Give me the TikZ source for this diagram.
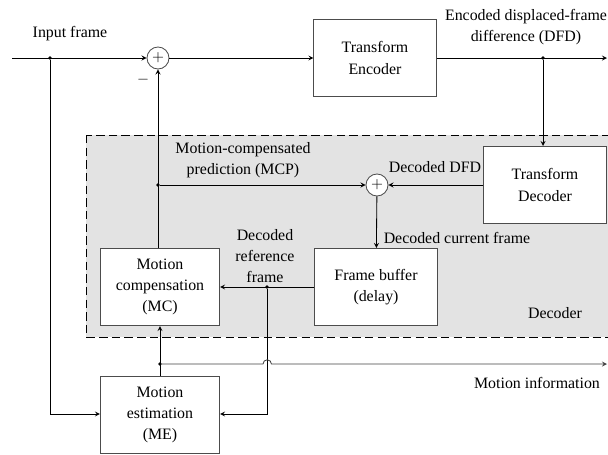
\documentclass[tikz,border=0pt]{standalone}
\usepackage{fontspec}
\setmainfont{Liberation Serif}
\usetikzlibrary{arrows,positioning}

\begin{document}
\begin{tikzpicture}
[x=0.025cm, y=-0.025cm, font=\fontsize{11.3}{15}\selectfont,
% STYLES
% The block style is used for the coder and decoder stages
block/.style={rectangle, draw=black!70, fill=white, line width=0.7pt, align=center, minimum width=3.05cm, minimum height=1.925cm, inner sep=2pt},
% The sum style is used for the adders
sum/.style={circle, draw=black!70, fill=white, line width=0.6pt, minimum size=0.55cm, inner sep=0pt},
% The label style is used for the texts on the links
label/.style={align=center, inner sep=1pt},
% The junction style marks the branching points
junction/.style={circle, fill=black, minimum size=2.6pt, inner sep=0pt},
link/.style={-stealth, line width=0.6pt}]

\useasboundingbox (0,0) rectangle (608,455);

% Decoder area
\draw[dashed, dash pattern=on 6pt off 3pt, fill=black!11, line width=0.6pt] (86,135) rectangle (640,337);
\node [label] (decoder) at (555,313) {Decoder};

% Draw blocks
\node [sum] (sumin) at (158,58) {$+$};
\node [block] (encoder) at (375,58) {Transform\\Encoder};
\node [block] (decoder-t) at (545,185) {Transform\\Decoder};
\node [sum] (sumdec) at (377,185) {$+$};
\node [block] (buffer) at (376,287) {Frame buffer\\(delay)};
\node [block, minimum width=2.975cm] (mc) at (160,287) {Motion\\compensation\\(MC)};
\node [block, minimum width=2.975cm] (me) at (160,415) {Motion\\estimation\\(ME)};

% Junctions
\node [junction] (in-split) at (50,58) {};
\node [junction] (dfd-split) at (543,58) {};
\node [junction] (mcp-split) at (158,185) {};
\node [junction] (ref-split) at (267,287) {};
\node [junction] (mv-split) at (160,364) {};
\coordinate (start) at (12,58);
\coordinate (dfd-out) at (607,58);
\coordinate (mv-out) at (607,364);

% Texts
\node [label] (input) at (70,34) {Input frame};
\node [label] (dfd) at (526,27) {Encoded displaced-frame\\difference (DFD)};
\node [label] (minus) at (143,80) {$-$};
\node [label] (mcp) at (243,160) {Motion-compensated\\prediction (MCP)};
\node [label] (dec-dfd) at (435,167) {Decoded DFD};
\node [label] (dec-cur) at (457,238) {Decoded current frame};
\node [label] (dec-ref) at (265,256) {Decoded\\reference\\frame};
\node [label] (motion) at (537,383) {Motion information};

% Draw the links between blocks
\draw [link] (start) -- (sumin);
\draw [link] (sumin) -- (encoder);
\draw [link] (encoder) -- (dfd-out);
\draw [link] (dfd-split) -- (dfd-split |- decoder-t.north);
\draw [link] (decoder-t) -- (sumdec);
\draw [link] (mcp-split) -- (sumdec);
\draw [link] (sumin |- mc.north) -- (sumin.south);
\draw [link] (sumdec) -- (buffer);
\draw [link] (buffer) -- (mc);
\draw [link] (me) -- (mc);
\draw [link] (in-split) |- (me.west |- 0,414);
\draw [link] (ref-split) |- (me.east |- 0,414);
\draw [link, draw=black!75] (mv-split) -- (263,364) arc[start angle=180, end angle=0, radius=3pt] -- (mv-out);

\end{tikzpicture}
\end{document}
